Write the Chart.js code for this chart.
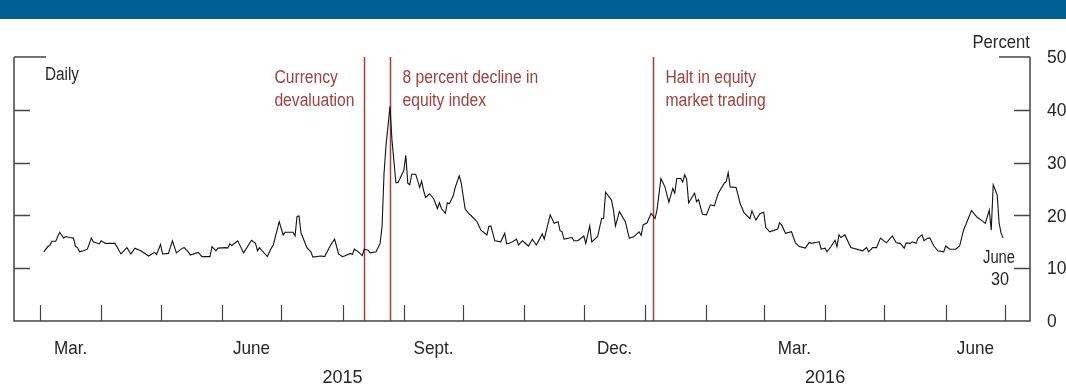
<!DOCTYPE html>
<html>
<head>
<meta charset="utf-8">
<script src="https://cdn.jsdelivr.net/npm/chart.js@4/dist/chart.umd.min.js"></script>
<style>
  html, body { margin: 0; padding: 0; background: #ffffff; }
  #wrap { width: 1066px; height: 385px; position: relative; }
</style>
</head>
<body>
<div id="wrap"><canvas id="chart" width="1066" height="385"></canvas></div>
<script>
// Daily implied volatility, percent. x = days since 1 March 2015.
const seriesDays = [
  2,4,5,6,8,10,12,13,15,17,18,19,20,22,24,26,27,30,31,33,38,41,44,46,48,51,55,58,59,61,62,65,67,69,72,73,75,
  76,80,82,86,87,89,90,94,95,96,97,100,103,107,109,110,111,115,117,118,121,123,124,128,129,130,131,132,135,137,138,142,144,147,149,151,153,154,
  157,158,159,161,163,164,166,167,170,172,173,174,175,177,178,180,181,184,185,186,187,188,190,192,193,194,195,197,199,201,202,203,205,206,207,209,210,212,213,215,217,219,221,223,
  226,227,228,230,233,235,236,238,241,242,244,247,249,251,254,255,258,260,262,263,264,265,269,270,272,275,276,278,279,282,284,285,286,289,290,291,293,
  296,298,300,303,304,305,307,309,311,312,314,316,318,320,321,322,324,325,326,327,328,331,332,333,335,337,339,341,343,346,347,348,349,352,354,356,359,360,362,364,366,367,369,
  373,374,375,377,380,382,384,387,389,390,394,395,397,398,400,402,403,404,405,407,410,416,418,419,421,423,425,428,431,433,435,437,438,440,441,443,
  444,446,447,449,450,452,454,457,458,460,463,465,467,471,474,476,478,480,481,482,484,485,486,487
];
const seriesValues = [
  13.1,14.1,14.3,15.1,15.1,16.8,15.7,16.0,15.8,15.7,14.1,13.9,13.1,13.3,13.6,15.7,15.0,14.6,15.2,14.7,14.7,12.7,13.9,12.7,13.8,13.3,12.3,13.0,12.6,14.5,12.7,12.8,15.2,12.9,13.8,13.9,13.1,
  12.5,13.0,12.2,12.2,14.1,13.3,13.8,13.9,13.8,14.6,14.3,15.2,12.9,15.3,14.7,13.3,13.9,12.2,13.8,14.4,18.8,16.3,16.8,16.8,16.1,19.8,19.9,16.7,13.9,13.1,12.1,12.3,12.2,14.4,15.5,12.7,12.2,12.3,
  12.8,12.6,13.6,13.1,12.4,13.6,13.4,12.9,13.1,14.7,17.9,28.0,33.3,40.6,34.3,26.2,26.2,28.5,31.4,26.1,25.8,27.8,27.8,25.3,26.5,24.7,23.4,24.1,23.2,21.3,22.4,21.3,20.4,22.4,22.2,23.7,25.3,27.5,26.2,21.2,20.3,19.6,18.8,17.2,
  16.3,17.9,18.0,15.2,15.0,16.6,14.6,14.8,15.5,14.4,15.2,14.2,15.5,14.4,16.5,15.5,20.1,18.5,18.8,17.1,16.9,15.5,15.8,15.2,15.2,16.1,14.7,18.0,15.0,16.0,19.4,19.4,24.4,22.9,21.0,18.0,20.7,
  18.8,15.7,15.9,16.9,16.2,18.2,18.6,20.4,19.4,21.0,27.0,25.4,22.5,25.1,24.2,27.0,27.0,26.3,27.7,26.8,22.4,24.2,22.6,23.0,20.2,20.1,22.0,21.8,24.2,26.1,26.4,28.1,25.4,25.3,22.3,20.5,19.4,20.9,19.1,20.3,20.6,17.7,16.9,
  17.4,18.6,18.2,16.6,16.9,14.8,14.1,13.8,14.9,14.7,15.0,13.6,13.8,13.1,14.1,15.3,14.1,16.3,15.8,16.3,13.9,13.3,13.9,13.1,13.9,13.9,15.7,14.8,16.1,14.8,14.7,13.8,14.8,14.7,15.0,14.7,
  15.7,16.3,15.2,15.7,15.7,14.2,13.3,13.1,14.2,13.6,13.6,14.2,17.2,20.9,19.6,19.1,18.5,21.0,17.2,25.8,23.9,18.5,16.6,15.7
];

// Month starts (days since 1 March 2015) for the tick marks along the bottom.
const monthStartDays = [0,31,61,92,122,153,184,214,245,275,306,337,366,397,427,458,488];
// Month labels, placed mid-month.
const monthLabels = ['Mar.','June','Sept.','Dec.','Mar.','June'];
const monthLabelDays = [15.5,107,199,290.5,381.5,473];
const yearLabels = ['2015','2016'];
const yearLabelDays = [153,397];
// Right-hand percent ticks.
const yTicks = [0,10,20,30,40,50];

// Events marked with vertical rules.
const eventDays = [164,177,310];
const eventText = [['Currency','devaluation'],['8 percent decline in','equity index'],['Halt in equity','market trading']];
const eventSide = ['left','right','right'];

const points = seriesDays.map((d, i) => ({ x: d, y: seriesValues[i] }));

const FONT = '"Liberation Sans", Arial, sans-serif';
const AXIS = '#444444';
const RED = '#a0403f';
const TEXT = '#262626';

// Draws condensed text by squeezing the glyphs horizontally.
function narrowText(ctx, text, x, y, align, squeeze) {
  const w = ctx.measureText(text).width * squeeze;
  let left = x;
  if (align === 'center') left = x - w / 2;
  else if (align === 'right') left = x - w;
  ctx.save();
  ctx.translate(left, y);
  ctx.scale(squeeze, 1);
  ctx.textAlign = 'left';
  ctx.fillText(text, 0, 0);
  ctx.restore();
  return w;
}

const framePlugin = {
  id: 'frame',
  beforeDraw(chart) {
    const ctx = chart.ctx;
    ctx.save();
    ctx.fillStyle = '#ffffff';
    ctx.fillRect(0, 0, chart.width, chart.height);
    ctx.fillStyle = '#006094';
    ctx.fillRect(0, 0, chart.width, 19);
    ctx.restore();
  },
  beforeDatasetsDraw(chart) {
    const ctx = chart.ctx;
    const a = chart.chartArea;
    const x = chart.scales.x;
    ctx.save();
    ctx.strokeStyle = RED;
    ctx.lineWidth = 1.5;
    ctx.fillStyle = RED;
    ctx.font = '18px ' + FONT;
    ctx.textBaseline = 'alphabetic';
    const sq = 0.87;
    eventDays.forEach((d, i) => {
      const px = Math.round(x.getPixelForValue(d)) + 0.5;
      ctx.beginPath();
      ctx.moveTo(px, a.top);
      ctx.lineTo(px, a.bottom);
      ctx.stroke();
      const lines = eventText[i];
      const w = Math.max(...lines.map(t => ctx.measureText(t).width * sq));
      const left = eventSide[i] === 'left' ? px - 10 - w : px + 12;
      lines.forEach((t, j) => narrowText(ctx, t, left, 83 + j * 23, 'left', sq));
    });
    ctx.restore();
  },
  afterDraw(chart) {
    const ctx = chart.ctx;
    const a = chart.chartArea;
    const x = chart.scales.x, y = chart.scales.y;
    ctx.save();
    ctx.strokeStyle = AXIS;
    ctx.lineWidth = 1.5;
    const L = a.left, R = a.right, T = a.top, B = a.bottom;
    ctx.beginPath();
    ctx.moveTo(L, T); ctx.lineTo(L, B); ctx.lineTo(R, B); ctx.lineTo(R, T);
    ctx.moveTo(L, T); ctx.lineTo(L + 32, T);
    ctx.moveTo(R, T); ctx.lineTo(R - 31, T);
    yTicks.slice(1, -1).forEach(v => {
      const py = Math.round(y.getPixelForValue(v)) + 0.5;
      ctx.moveTo(L, py); ctx.lineTo(L + 16, py);
      ctx.moveTo(R, py); ctx.lineTo(R - 16, py);
    });
    ctx.stroke();
    ctx.lineWidth = 1.2;
    ctx.beginPath();
    monthStartDays.forEach(d => {
      const px = Math.round(x.getPixelForValue(d)) + 0.5;
      ctx.moveTo(px, B); ctx.lineTo(px, B - 16);
    });
    ctx.stroke();

    ctx.fillStyle = TEXT;
    ctx.font = '19px ' + FONT;
    ctx.textBaseline = 'middle';
    yTicks.forEach(v => narrowText(ctx, String(v), R + 17, y.getPixelForValue(v) + 1, 'left', 0.92));

    ctx.textBaseline = 'alphabetic';
    monthLabels.forEach((t, i) => narrowText(ctx, t, x.getPixelForValue(monthLabelDays[i]), 354, 'center', 0.9));
    yearLabels.forEach((t, i) => narrowText(ctx, t, x.getPixelForValue(yearLabelDays[i]), 383, 'center', 0.95));
    narrowText(ctx, 'Percent', R, 48, 'right', 0.88);

    ctx.font = '18px ' + FONT;
    narrowText(ctx, 'Daily', 45, 80, 'left', 0.85);
    narrowText(ctx, 'June', 999, 263, 'center', 0.82);
    narrowText(ctx, '30', 1000, 285, 'center', 0.9);
    ctx.restore();
  }
};

new Chart(document.getElementById('chart'), {
  type: 'line',
  data: {
    datasets: [{
      data: points,
      borderColor: '#111111',
      borderWidth: 1.1,
      pointRadius: 0,
      tension: 0,
      fill: false
    }]
  },
  options: {
    responsive: false,
    animation: false,
    devicePixelRatio: 1,
    layout: { padding: { left: 14, right: 36, top: 57, bottom: 64 } },
    plugins: { legend: { display: false }, tooltip: { enabled: false } },
    scales: {
      x: { type: 'linear', min: -13.1, max: 500.6, display: false },
      y: { min: 0, max: 50, display: false }
    }
  },
  plugins: [framePlugin]
});
</script>
</body>
</html>
